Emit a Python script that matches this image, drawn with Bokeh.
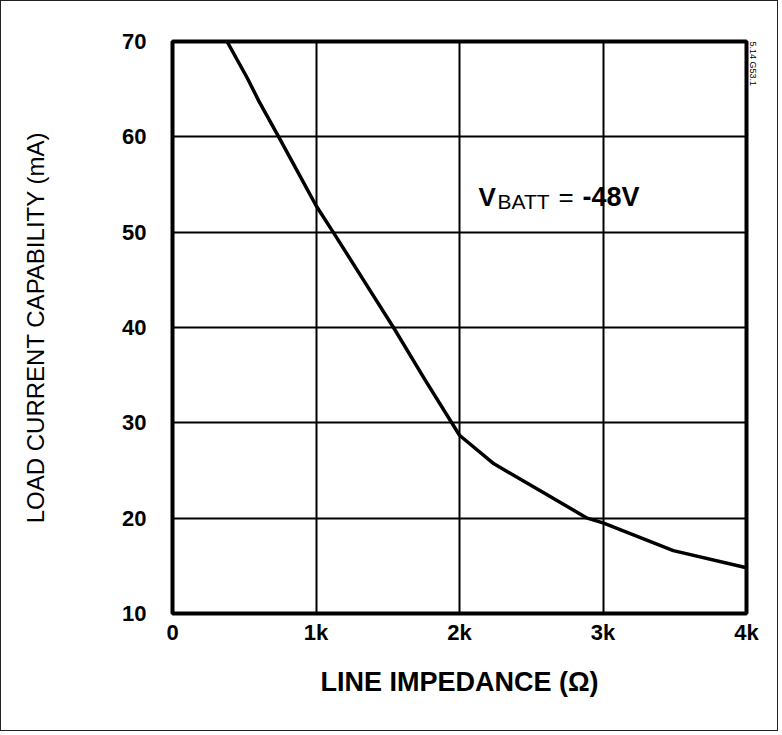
import math
from bokeh.plotting import figure
from bokeh.models import Range1d, FixedTicker, Label, Title
from bokeh.embed import file_html
from bokeh.resources import INLINE

# Data
impedance_ohm = [380, 520, 600, 740, 870, 1000, 1124, 1330, 1540, 1760, 2000, 2240, 2560, 2890, 3000, 3490, 4000]
load_current_ma = [70, 66.2, 63.8, 60, 56.4, 52.8, 49.9, 45, 40, 34.5, 28.7, 25.7, 22.9, 20, 19.5, 16.6, 14.8]

x_ticks = [0, 1000, 2000, 3000, 4000]
x_tick_labels = ["0", "1k", "2k", "3k", "4k"]
y_ticks = [10, 20, 30, 40, 50, 60, 70]

FONT = "Liberation Sans"

p = figure(width=778, height=731, output_backend="svg", toolbar_location=None,
           x_range=Range1d(0, 4000), y_range=Range1d(10, 70),
           min_border_left=171, min_border_right=33, min_border_top=40, min_border_bottom=119,
           styles={"border": "1px solid #222"})

p.background_fill_color = "white"
p.border_fill_color = "white"
p.outline_line_color = "black"
p.outline_line_width = 4

p.xgrid.grid_line_color = "black"
p.ygrid.grid_line_color = "black"
p.xgrid.grid_line_width = 2
p.ygrid.grid_line_width = 2
p.xgrid.grid_line_alpha = 1
p.ygrid.grid_line_alpha = 1

p.xaxis.ticker = FixedTicker(ticks=x_ticks)
p.yaxis.ticker = FixedTicker(ticks=y_ticks)
p.xaxis.major_label_overrides = {t: l for t, l in zip(x_ticks, x_tick_labels)}

for ax in (p.xaxis, p.yaxis):
    ax.axis_line_color = None
    ax.major_tick_line_color = None
    ax.minor_tick_line_color = None
    ax.major_label_text_font = FONT
    ax.major_label_text_font_style = "bold"
    ax.major_label_text_font_size = "22px"
    ax.major_label_text_color = "black"

p.yaxis.major_label_standoff = 20
p.xaxis.major_label_standoff = 0

p.xaxis.axis_label = "LINE IMPEDANCE (Ω)"
p.xaxis.axis_label_text_font = FONT
p.xaxis.axis_label_text_font_style = "bold"
p.xaxis.axis_label_text_font_size = "27px"
p.xaxis.axis_label_text_color = "black"
p.xaxis.axis_label_standoff = 19

p.yaxis.axis_label = "LOAD CURRENT CAPABILITY (mA)"
p.yaxis.axis_label_text_font = FONT
p.yaxis.axis_label_text_font_style = "normal"
p.yaxis.axis_label_text_font_size = "24px"
p.yaxis.axis_label_text_color = "black"
p.yaxis.axis_label_standoff = 70

p.line(impedance_ohm, load_current_ma, line_color="black", line_width=3.5, line_join="round")

# V_BATT annotation
lab_kw = dict(text_font=FONT, text_color="black", text_baseline="alphabetic", text_align="left")
p.add_layout(Label(x=2132, y=53.7, text="V", text_font_size="26px", text_font_style="bold", **lab_kw))
p.add_layout(Label(x=2265, y=53.2, text="BATT", text_font_size="21px", text_font_style="normal", **lab_kw))
p.add_layout(Label(x=2690, y=53.7, text="=", text_font_size="26px", text_font_style="normal", **lab_kw))
p.add_layout(Label(x=2857, y=53.7, text="-48V", text_font_size="27px", text_font_style="bold", **lab_kw))

# small figure id at right edge
p.add_layout(Title(text="5.14 G53.1", align="left", text_font=FONT, text_font_size="9px",
                   text_font_style="normal", text_color="black", standoff=2), "right")

open("out.html", "w").write(file_html(p, INLINE))
